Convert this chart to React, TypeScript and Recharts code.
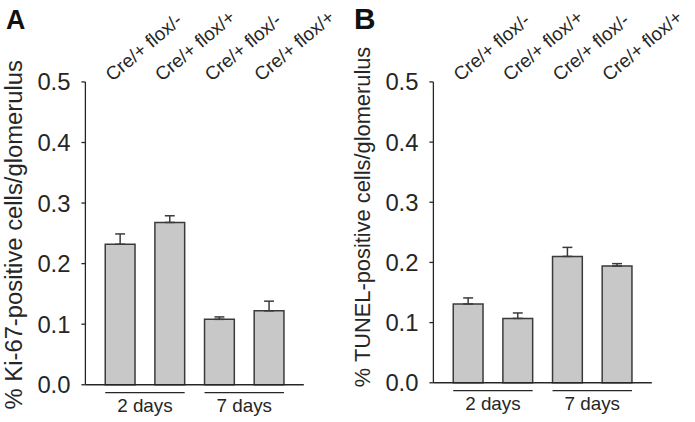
import React from 'react';
import { BarChart, Bar, XAxis, YAxis, ErrorBar } from 'recharts';

const FONT = '"Liberation Sans", Arial, Helvetica, sans-serif';
const INK = '#262626';
const BAR_FILL = '#c8c8c8';

// genotypes along the top, time points along the bottom
const genotypes = ['Cre/+ flox/-', 'Cre/+ flox/+', 'Cre/+ flox/-', 'Cre/+ flox/+'];
const timepoints = ['2 days', '2 days', '7 days', '7 days'];

const ki67Mean = [0.232, 0.268, 0.108, 0.122];
const ki67Sem = [0.017, 0.011, 0.004, 0.016];

const tunelMean = [0.131, 0.107, 0.210, 0.194];
const tunelSem = [0.010, 0.009, 0.015, 0.004];

const yTicks = [0, 0.1, 0.2, 0.3, 0.4, 0.5];

function buildRows(mean: number[], sem: number[]) {
  return genotypes.map((g, i) => ({
    id: `${i}`,
    genotype: g,
    group: timepoints[i],
    value: mean[i],
    err: [0, sem[i]],
  }));
}

function GroupTick(props: any) {
  const { x, y, payload } = props;
  return (
    <g>
      <line x1={x - 40} x2={x + 40} y1={y + 8} y2={y + 8} stroke={INK} strokeWidth={1.3} />
      <text x={x} y={y + 27} textAnchor="middle" fontSize={19} fontFamily={FONT} fill={INK}>
        {payload.value}
      </text>
    </g>
  );
}

interface PanelProps {
  letter: string;
  letterSize: number;
  yLabel: string;
  yLabelSize: number;
  yLabelX: number;
  yLabelY: number;
  mean: number[];
  sem: number[];
  bottom: number;
}

function Panel({ letter, letterSize, yLabel, yLabelSize, yLabelX, yLabelY, mean, sem, bottom }: PanelProps) {
  const rows = buildRows(mean, sem);
  return (
    <BarChart
      width={350}
      height={422}
      data={rows}
      margin={{ top: 0, right: 44, bottom: 0, left: 0 }}
      barCategoryGap={0}
    >
      <XAxis
        xAxisId="cat"
        dataKey="id"
        orientation="top"
        height={81}
        padding={{ left: 10, right: 10 }}
        axisLine={false}
        tickLine={false}
        tickSize={0}
        tickMargin={0}
        tickFormatter={(v: string) => genotypes[Number(v)]}
        tick={{ angle: -40, textAnchor: 'start', fontSize: 19, fontFamily: FONT, fill: INK, dx: -8, dy: 0 }}
        interval={0}
      />
      <XAxis
        xAxisId="grp"
        dataKey="group"
        allowDuplicatedCategory={false}
        height={bottom}
        padding={{ left: 10, right: 10 }}
        axisLine={{ stroke: INK, strokeWidth: 1.3 }}
        tickLine={false}
        tickSize={0}
        tickMargin={0}
        tick={<GroupTick />}
        interval={0}
      />
      <YAxis
        width={86}
        domain={[0, 0.5]}
        ticks={yTicks}
        tickFormatter={(v: number) => v.toFixed(1)}
        axisLine={{ stroke: INK, strokeWidth: 1.3 }}
        tickLine={{ stroke: INK, strokeWidth: 1.3 }}
        tickSize={4}
        tickMargin={11}
        tick={{ fontSize: 24, fontFamily: FONT, fill: INK }}
      />
      <Bar
        xAxisId="cat"
        dataKey="value"
        barSize={30}
        fill={BAR_FILL}
        stroke="#3a3a3a"
        strokeWidth={1.5}
        isAnimationActive={false}
      >
        <ErrorBar dataKey="err" width={5} stroke="#3a3a3a" strokeWidth={1.5} direction="y" />
      </Bar>
      <text x={6} y={28} fontSize={letterSize} fontWeight="bold" fontFamily={FONT} fill="#111">
        {letter}
      </text>
      <text
        x={yLabelX}
        y={yLabelY}
        transform={`rotate(-90, ${yLabelX}, ${yLabelY})`}
        textAnchor="middle"
        dominantBaseline="central"
        fontSize={yLabelSize}
        fontFamily={FONT}
        fill={INK}
      >
        {yLabel}
      </text>
    </BarChart>
  );
}

export default function App() {
  return (
    <div
      style={{
        position: 'absolute',
        left: 0,
        top: 0,
        width: 695,
        height: 422,
        background: '#fff',
        display: 'flex',
        overflow: 'hidden',
      }}
    >
      <Panel
        letter="A"
        letterSize={27}
        yLabel="% Ki-67-positive cells/glomerulus"
        yLabelSize={24}
        yLabelX={14}
        yLabelY={235}
        mean={ki67Mean}
        sem={ki67Sem}
        bottom={36}
      />
      <Panel
        letter="B"
        letterSize={30}
        yLabel="% TUNEL-positive cells/glomerulus"
        yLabelSize={22}
        yLabelX={15}
        yLabelY={217}
        mean={tunelMean}
        sem={tunelSem}
        bottom={38}
      />
    </div>
  );
}
